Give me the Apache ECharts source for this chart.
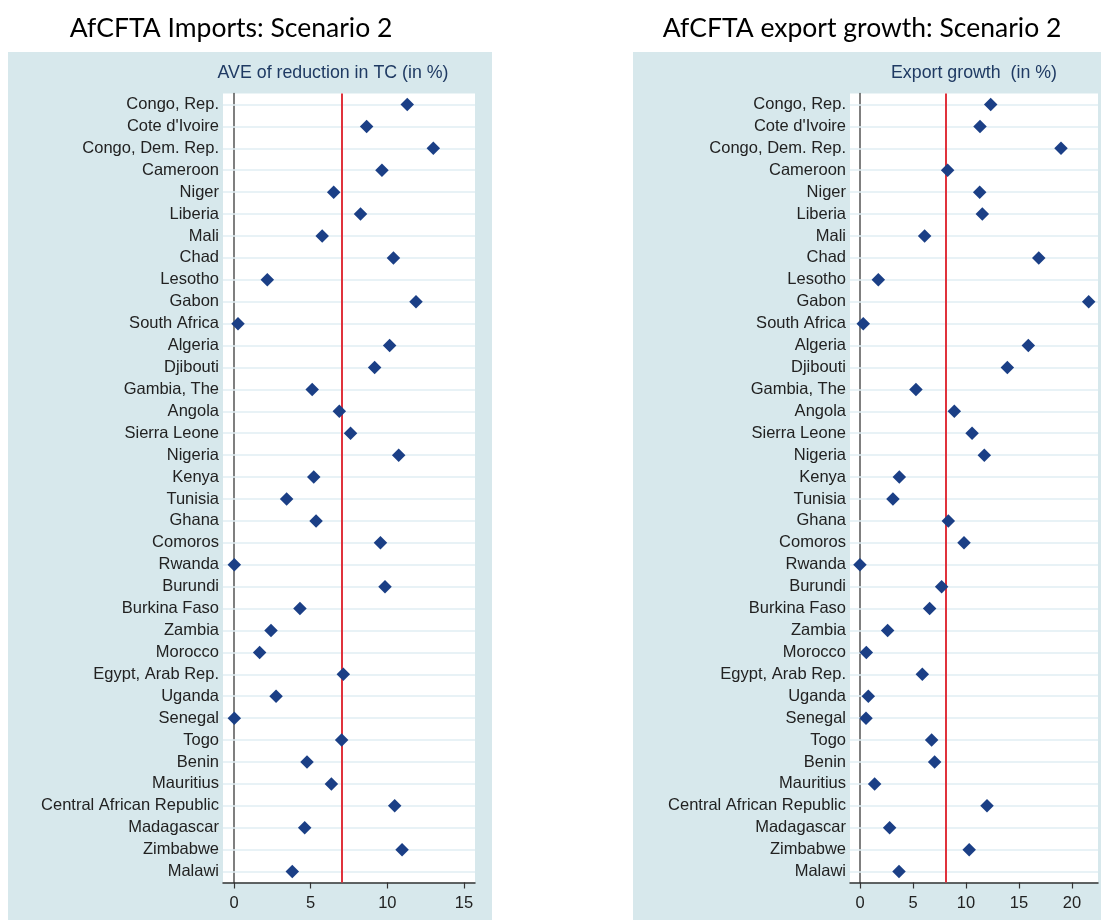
<!DOCTYPE html>
<html>
<head>
<meta charset="utf-8">
<script src="https://cdn.jsdelivr.net/npm/echarts@6/dist/echarts.min.js"></script>
<style>html,body{margin:0;padding:0;background:#fff}#c{width:1101px;height:920px}</style>
</head>
<body>
<div id="c"></div>
<script>
const categories = ["Congo, Rep.","Cote d'Ivoire","Congo, Dem. Rep.","Cameroon","Niger","Liberia","Mali","Chad","Lesotho","Gabon","South Africa","Algeria","Djibouti","Gambia, The","Angola","Sierra Leone","Nigeria","Kenya","Tunisia","Ghana","Comoros","Rwanda","Burundi","Burkina Faso","Zambia","Morocco","Egypt, Arab Rep.","Uganda","Senegal","Togo","Benin","Mauritius","Central African Republic","Madagascar","Zimbabwe","Malawi"];
const importValues = [11.3,8.65,13.0,9.65,6.5,8.25,5.75,10.4,2.17,11.87,0.26,10.15,9.17,5.1,6.87,7.6,10.74,5.2,3.43,5.35,9.55,0.02,9.85,4.3,2.41,1.67,7.13,2.74,0.02,7.02,4.76,6.35,10.48,4.61,10.96,3.8];
const exportValues = [12.33,11.32,18.96,8.27,11.29,11.54,6.1,16.86,1.73,21.57,0.31,15.88,13.9,5.28,8.9,10.57,11.73,3.71,3.11,8.33,9.81,0.0,7.7,6.57,2.61,0.6,5.88,0.79,0.57,6.76,7.04,1.38,11.98,2.8,10.3,3.68];
const importRef = 7.0;
const exportRef = 8.1;
const importTicks = [0,5,10,15];
const exportTicks = [0,5,10,15,20];
const titles = ["AfCFTA Imports: Scenario 2","AfCFTA export growth: Scenario 2"];
const subtitles = ["AVE of reduction in TC (in %)","Export growth  (in %)"];

const chart = echarts.init(document.getElementById('c'), null, {renderer:'canvas'});
const LBL = 'Liberation Sans, Arial, sans-serif';
const TTL = 'Lato, Open Sans, sans-serif';
const panel = '#d7e8ec';
const gridLine = '#e0eef3';
const marker = '#1b3f86';

function xAxisCfg(gi, min, max, ticks){
  return {
    type:'value', gridIndex:gi, min:min, max:max,
    axisLine:{show:true, lineStyle:{color:'#333', width:1.5}},
    axisTick:{show:true, length:6, customValues:ticks, lineStyle:{color:'#333', width:1.2}},
    axisLabel:{customValues:ticks, color:'#222', fontSize:16.5, fontFamily:LBL, margin:12},
    splitLine:{show:false}
  };
}
function yAxisCfg(gi){
  return {
    type:'category', gridIndex:gi, data:categories, inverse:true,
    axisLine:{show:true, lineStyle:{color:'#555', width:1.5}},
    axisTick:{show:false},
    axisLabel:{color:'#222', fontSize:16.5, fontFamily:LBL, margin:4, interval:0},
    splitLine:{show:false}
  };
}
function seriesPair(idx, values, ref){
  return [
    {
      type:'scatter', xAxisIndex:idx, yAxisIndex:idx, symbol:'none', symbolSize:0, z:1, silent:true,
      data: values.map((v,i)=>[v, categories[i]]),
      markLine:{
        silent:true, symbol:['none','none'], label:{show:false},
        lineStyle:{type:'solid', color:gridLine, width:1.5},
        data: categories.map(c=>({yAxis:c})).concat([{xAxis:ref, lineStyle:{color:'#e0323c', width:2, type:'solid'}}])
      }
    },
    {
      type:'scatter', xAxisIndex:idx, yAxisIndex:idx, symbol:'diamond', symbolSize:13.5, z:5,
      itemStyle:{color:marker, opacity:1},
      data: values.map((v,i)=>[v, categories[i]])
    }
  ];
}

chart.setOption({
  animation:false,
  backgroundColor:'#ffffff',
  graphic:[
    {type:'rect', z:-100, shape:{x:8, y:52, width:484, height:868}, style:{fill:panel}},
    {type:'rect', z:-100, shape:{x:633, y:52, width:468, height:868}, style:{fill:panel}}
  ],
  title:[
    {text:titles[0], left:231, top:15, textAlign:'center', padding:0, textStyle:{fontFamily:TTL, fontWeight:'normal', fontSize:26.5, color:'#000'}},
    {text:titles[1], left:862, top:15, textAlign:'center', padding:0, textStyle:{fontFamily:TTL, fontWeight:'normal', fontSize:26.5, color:'#000'}},
    {text:subtitles[0], left:333, top:64, textAlign:'center', padding:0, textStyle:{fontFamily:LBL, fontWeight:'normal', fontSize:17.8, color:'#1f3a63'}},
    {text:subtitles[1], left:974, top:64, textAlign:'center', padding:0, textStyle:{fontFamily:LBL, fontWeight:'normal', fontSize:17.8, color:'#1f3a63'}}
  ],
  grid:[
    {left:223, top:93.5, width:252, height:789, show:true, backgroundColor:'#ffffff', borderWidth:0, containLabel:false},
    {left:850, top:93.5, width:248, height:789, show:true, backgroundColor:'#ffffff', borderWidth:0, containLabel:false}
  ],
  xAxis:[ xAxisCfg(0, -0.72, 15.72, importTicks), xAxisCfg(1, -0.94, 22.45, exportTicks) ],
  yAxis:[ yAxisCfg(0), yAxisCfg(1) ],
  series:[].concat(seriesPair(0, importValues, importRef), seriesPair(1, exportValues, exportRef))
});
</script>
</body>
</html>
